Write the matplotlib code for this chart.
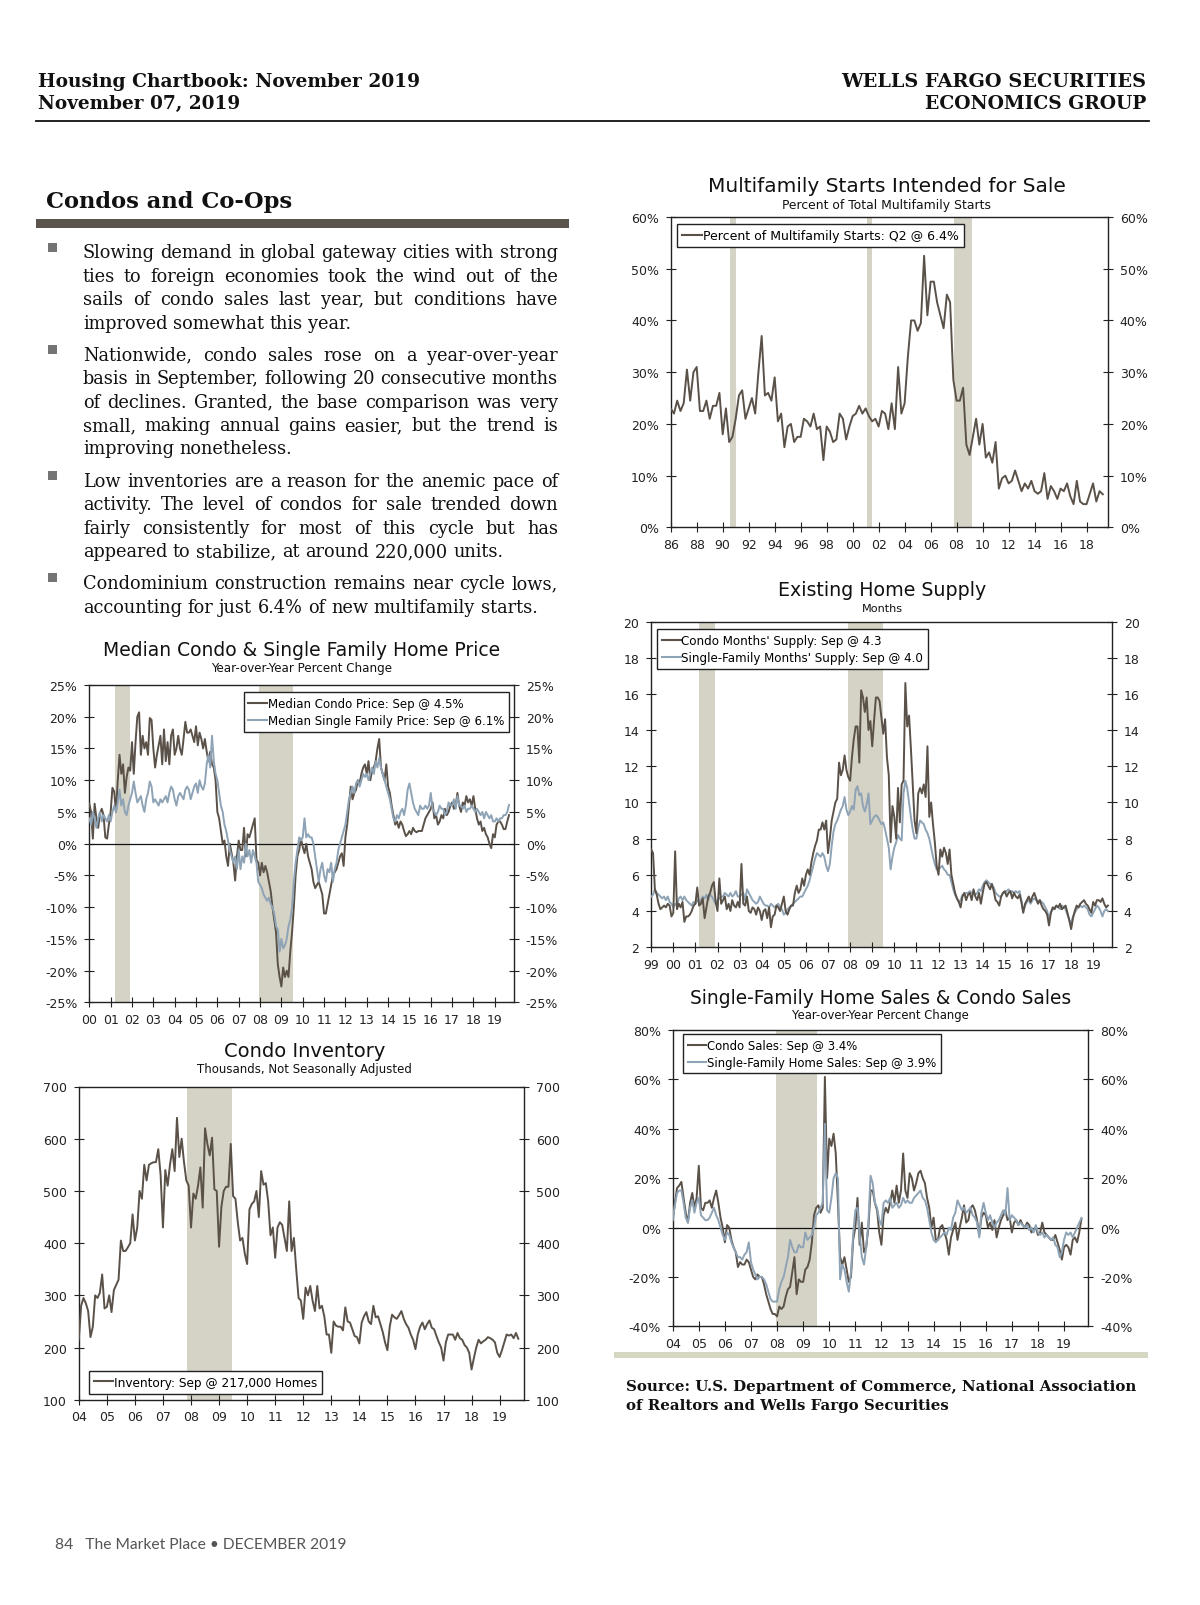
import numpy as np
import matplotlib
matplotlib.use('Agg')
import matplotlib.pyplot as plt
from matplotlib.patches import Rectangle
from matplotlib.lines import Line2D
from matplotlib.font_manager import FontProperties

# ---------------- DATA ----------------
# Multifamily starts intended for sale, % of total (quarterly, 1986Q1-2019Q2)
mf_start = 1986
mf_share = [
    23, 22, 24.5, 22.5, 24, 30.5, 24.5, 30, 31, 22.5, 22.5, 24.5, 21, 23.5, 23.5, 26,
    18, 23, 16.5, 17.5, 21, 25.5, 26.5, 21, 23, 25, 22, 30, 37, 25.5, 26, 24.5,
    29, 20.5, 22, 15.5, 19.5, 20, 16.5, 17.5, 17.5, 21, 20.5, 19.5, 22, 19, 19.5, 13,
    19.5, 18.5, 16.5, 17, 22, 21, 17, 19.5, 21.5, 22, 23.5, 22, 23, 21.5, 20.5, 21,
    19.5, 22.5, 22, 19, 24, 19, 31, 22, 24, 33, 40, 40, 38, 39.5, 52.5, 41,
    47.5, 47.5, 43.5, 41, 38.5, 45, 43.5, 28.5, 24.5, 24.5, 27, 16, 14, 17.5, 21, 16,
    20, 13.5, 14.5, 12.5, 16.5, 7.5, 9.5, 10, 8.5, 9, 11, 9, 7, 8.5, 7.5, 9,
    7, 6.5, 7, 10.5, 5.5, 8, 7, 5.5, 7.5, 7, 8.5, 6, 4.5, 9, 5, 4.5,
    4.5, 6.5, 8.5, 5, 7, 6.4]

# Existing home months' supply (monthly, Jan 1999 - Sep 2019)
supply_start = 1999
supply_condo = [
    7.4, 7.2, 5.2, 4.9, 4.4, 4.1, 4.2, 4.3, 4.2, 4.4, 4.3, 3.7,
    3.9, 7.3, 4.1, 4.4, 4.2, 4.5, 3.4, 3.7, 3.7, 3.8, 4.0, 4.3,
    4.4, 5.3, 4.3, 4.4, 4.7, 3.6, 4.2, 4.8, 5.0, 5.4, 5.6, 4.5,
    4.0, 5.8, 4.4, 4.6, 4.8, 4.1, 4.4, 4.0, 4.6, 4.3, 4.2, 4.5,
    4.2, 6.6, 4.4, 4.3, 4.8, 4.0, 3.9, 4.2, 4.1, 3.8, 4.2, 4.0,
    3.5, 4.0, 4.1, 3.6, 4.2, 3.1, 3.7, 3.8, 4.3, 4.2, 4.0, 4.4,
    4.8, 4.0, 3.8, 4.1, 4.3, 4.3, 5.0, 5.4, 5.0, 5.2, 5.8, 5.4,
    6.0, 6.3, 6.0, 6.7, 7.2, 7.6, 7.9, 8.5, 8.5, 8.9, 8.5, 9.0,
    7.2, 8.0, 9.0, 9.5, 10.0, 10.2, 12.2, 11.5, 11.8, 12.6, 11.8, 11.4,
    11.2, 12.5, 13.5, 14.2, 14.2, 12.2, 16.2, 15.8, 15.0, 15.8, 14.0, 14.5,
    13.1, 14.5, 15.8, 15.8, 15.6, 14.7, 13.8, 14.6, 12.5, 11.5, 7.8, 9.8,
    9.2, 8.0, 10.8, 8.9, 11.0, 11.2, 16.6, 14.2, 14.8, 13.0, 11.0, 9.0,
    8.3, 10.5, 10.8, 10.5, 11.0, 10.3, 13.1, 9.2, 10.0, 8.8, 7.8, 6.5,
    6.0, 7.4, 7.0, 7.5, 7.2, 6.6, 7.4, 6.0, 5.5, 5.0, 4.7, 4.5,
    4.2, 4.8, 5.0, 4.6, 4.9, 5.0, 4.6, 5.2, 4.8, 4.6, 5.0, 4.4,
    5.0, 5.5, 5.6, 5.4, 5.2, 5.5, 5.1, 4.6, 4.5, 4.3, 4.8, 5.0,
    5.1, 4.8, 5.0, 5.1, 4.7, 5.0, 4.8, 4.7, 4.9, 4.5, 3.9, 4.4,
    4.6, 4.8, 4.5, 4.8, 5.0, 4.7, 4.4, 4.6, 4.3, 4.1, 4.0, 3.8,
    3.2, 3.9, 4.2, 4.1, 4.3, 4.2, 4.4, 4.1, 4.2, 4.3, 3.9, 3.5,
    3.0, 3.6, 4.0, 4.3, 4.2, 4.4, 4.5, 4.6, 4.4, 4.3, 4.1, 3.9,
    4.5, 4.3, 4.6, 4.6, 4.5, 4.7, 4.4, 4.2, 4.3]
supply_sf = [
    4.8, 4.9, 5.2, 5.0, 4.9, 4.8, 4.7, 4.8, 4.6, 4.8, 4.5, 4.4,
    4.2, 4.4, 4.3, 4.7, 4.8, 4.6, 4.8, 4.6, 4.5, 4.4, 4.3, 4.5,
    4.4, 4.6, 4.5, 4.6, 4.8, 4.7, 4.9, 4.6, 4.9, 4.8, 4.6, 4.4,
    4.6, 4.7, 4.8, 4.8, 5.0, 4.9, 4.8, 5.0, 4.8, 4.9, 5.1, 4.8,
    4.8, 4.9, 5.0, 4.6, 5.2, 5.0, 4.8, 4.6, 4.5, 4.4, 4.5, 4.8,
    4.6, 4.4, 4.3, 4.3, 4.2, 4.4, 4.3, 4.2, 4.3, 4.4, 4.2, 4.1,
    3.8, 3.9, 4.1, 4.2, 4.3, 4.4, 4.5, 4.6, 4.7, 4.8, 4.8, 5.0,
    5.2, 5.4, 5.7, 6.1, 6.5, 6.9, 7.2, 7.1, 7.0, 7.2, 7.0, 6.5,
    6.2, 6.6, 7.6, 8.4, 8.8, 9.0, 9.3, 9.6, 9.8, 10.3, 9.6, 9.3,
    9.5, 9.8, 9.6, 10.7, 10.9, 10.4, 10.5, 9.8, 9.5, 9.9, 10.5, 8.8,
    9.0, 9.2, 9.3, 9.2, 9.0, 8.8, 8.9, 8.5, 8.0, 7.5, 6.3, 7.0,
    7.5, 7.8, 8.2, 8.0, 7.9, 10.5, 11.2, 10.8, 10.0, 9.2, 8.5, 8.0,
    8.0, 8.6, 9.0, 8.9, 8.8, 8.5, 8.3, 8.0, 7.5, 7.0, 6.6, 6.3,
    6.3, 6.4, 6.5, 6.3, 6.2, 6.0, 6.0, 5.6, 5.2, 4.9, 4.7, 4.5,
    4.6, 4.9, 4.9, 5.0, 5.0, 5.1, 5.0, 5.0, 4.9, 5.0, 5.2, 5.1,
    5.4, 5.6, 5.7, 5.6, 5.5, 5.4, 5.3, 5.0, 4.9, 4.8, 4.8, 5.0,
    5.0, 5.1, 5.2, 5.0, 5.1, 5.0, 5.1, 5.0, 5.1, 4.6, 4.0, 4.3,
    4.5, 4.6, 4.4, 4.6, 4.7, 4.6, 4.5, 4.6, 4.5, 4.4, 4.2, 4.0,
    3.6, 3.9, 4.1, 4.2, 4.3, 4.2, 4.1, 4.3, 4.2, 4.1, 3.8, 3.5,
    3.3, 3.7, 3.9, 4.1, 4.2, 4.3, 4.2, 4.3, 4.2, 4.1, 3.8, 3.7,
    3.9, 4.1, 4.3, 4.2, 4.0, 3.7, 4.0, 4.1, 4.0]

# Median price, year-over-year % change (monthly, Jan 2000 - Sep 2019)
price_start = 2000
price_condo = [
    6.3, 5.0, 0.8, 6.3, 4.0, 2.5, 4.8, 5.5, 4.5, 1.0, 0.8, 3.0,
    5.0, 8.8, 8.2, 5.0, 10.0, 14.0, 11.0, 12.5, 8.0, 10.5, 12.0, 11.5,
    16.0, 11.0, 16.0, 20.0, 20.7, 14.0, 17.0, 15.0, 16.0, 14.0, 19.8, 19.5,
    15.0, 12.0, 14.0, 15.5, 17.0, 12.5, 18.0, 13.0, 16.0, 12.5, 17.0, 18.0,
    14.0, 15.0, 17.0, 15.0, 14.0, 16.5, 19.2, 17.5, 17.5, 18.0, 17.0, 16.0,
    18.5, 15.5, 17.5, 16.5, 15.0, 16.5, 14.5, 13.0, 14.5, 12.5, 12.0, 10.0,
    5.0, 4.0, 2.0, 0.0, 0.5, -2.0, -3.5, 0.0, -1.5, -3.0, -5.8, -2.0,
    0.5, -1.0, -1.0, 2.5, -2.0, 1.5, 1.0, 2.0, 3.0, 4.0, -2.5, -3.0,
    -5.0, -3.0, -4.5, -3.5, -4.5, -6.0, -7.5, -10.0, -12.0, -14.0, -19.0, -21.0,
    -22.5, -19.5, -21.0, -20.0, -21.0, -17.0, -14.0, -10.0, -5.0, -2.0, -1.0, 0.8,
    -0.5, -1.5, 0.0, -2.0, -3.0, -4.0, -6.0, -7.0, -6.5, -6.0, -7.0, -8.0,
    -11.0, -11.0, -9.5, -8.0, -6.5, -5.0, -4.5, -4.0, -3.0, -2.0, -1.5, -3.5,
    1.0, 3.0, 6.0, 9.0, 7.0, 8.0, 8.5, 10.0, 9.5, 11.0, 12.0, 12.5,
    11.0, 13.0, 10.0, 11.5, 12.0, 13.0, 15.0, 16.5, 12.0, 11.0, 10.0, 12.5,
    9.0, 8.0, 6.0, 4.5, 3.0, 3.5, 2.5, 3.5, 3.0, 2.0, 1.2, 1.5,
    2.0, 1.5, 2.5, 2.0, 1.8, 2.0, 2.0, 2.0, 3.0, 4.0, 4.5, 5.0,
    5.5, 6.5, 4.0, 4.5, 3.0, 3.5, 4.5, 4.0, 5.5, 4.5, 5.0, 6.0,
    6.5, 5.5, 6.0, 8.0, 6.0, 5.0, 6.5, 6.0, 7.5, 6.5, 7.0, 6.0,
    7.5, 5.5, 4.0, 3.0, 3.5, 2.0, 2.5, 1.5, 1.0, 0.0, -0.7, 1.5,
    1.0, 3.0, 3.5, 3.5, 3.0, 2.3, 2.3, 3.5, 4.5]
price_sf = [
    4.0, 3.0, 5.0, 4.0, 2.5, 4.0, 5.0, 3.5, 4.5, 4.0, 3.5, 4.5,
    3.5, 5.0, 6.0, 5.0, 6.5, 8.5, 6.0, 7.0, 5.0, 4.5, 6.0, 7.0,
    8.0, 9.8, 8.0, 6.5, 7.0, 7.5, 6.0, 5.0, 7.0, 8.0, 9.8, 9.0,
    6.5, 7.0, 6.5, 6.0, 7.0, 6.5, 7.0, 7.5, 6.5, 8.0, 9.0, 8.5,
    7.0, 6.0, 7.5, 8.0, 7.5, 7.0, 8.5, 9.0, 8.5, 7.0, 8.0, 9.0,
    9.5, 8.0, 10.0, 9.0, 8.5, 9.5, 12.5, 14.0, 12.0, 17.0, 13.0, 11.0,
    10.0, 8.0, 6.0, 5.0, 3.0, 2.0, 0.5, -1.0, -2.0, -3.0, -2.0, -4.0,
    -1.0, -4.0, -2.0, -3.0, 0.0, -2.0, -1.0, -3.0, -1.0, -2.0, -3.0, -6.0,
    -6.5, -7.0, -8.0, -8.5, -9.0, -8.5, -9.5, -10.0, -11.0, -13.0, -13.5, -17.0,
    -15.0, -16.5, -16.0, -15.0, -13.0, -12.0, -10.0, -6.0, -3.0, -1.0, 1.0, 0.5,
    1.0, 4.0, 1.0, 1.5, 1.0, 1.0, 0.0, -2.0, -4.0, -6.0, -4.0, -3.0,
    -5.0, -6.0, -4.0, -4.5, -3.0, -6.0, -4.0, -3.0, -1.0, 0.0, 1.0, 2.0,
    3.0, 5.0, 7.0, 8.0, 9.0, 8.0, 9.5, 10.0, 9.0, 10.0, 11.0, 10.5,
    11.0, 10.0, 11.0, 12.0, 11.0, 13.0, 12.0, 13.5, 12.0, 11.0, 10.0, 9.0,
    8.0, 7.0, 5.5, 4.0, 3.5, 4.5, 4.0, 5.0, 5.5, 4.5, 6.0, 8.5,
    9.5, 8.0, 6.5, 5.5, 5.0, 4.5, 6.0, 5.5, 5.5, 6.0, 5.5, 6.0,
    8.0, 5.5, 5.0, 4.5, 5.0, 6.0, 5.5, 5.5, 4.5, 5.0, 6.5, 6.0,
    6.0, 7.0, 5.5, 7.5, 6.0, 6.0, 5.5, 6.0, 5.0, 5.5, 5.5, 6.0,
    5.5, 5.0, 5.5, 5.0, 4.5, 5.0, 4.0, 5.0, 4.5, 4.0, 4.5, 3.5,
    3.5, 4.0, 3.5, 4.0, 4.0, 4.5, 4.5, 5.0, 6.1]

# Condo inventory, thousands NSA (monthly, Jan 2004 - Sep 2019)
inv_start = 2004
inventory = [
    215, 280, 295, 285, 270, 220, 240, 300, 295, 305, 340, 275,
    278, 300, 268, 310, 320, 330, 405, 385, 385, 392, 400, 455,
    405, 430, 500, 485, 550, 520, 550, 553, 555, 555, 580, 530,
    430, 540, 510, 550, 580, 538, 640, 565, 600, 555, 520, 510,
    430, 495, 485, 510, 545, 468, 620, 590, 568, 602, 503, 500,
    393, 470, 500, 508, 508, 590, 490, 485, 440, 405, 410, 380,
    360, 465, 475, 480, 500, 450, 538, 512, 515, 480, 415, 430,
    372, 430, 440, 435, 410, 385, 480, 385, 410, 350, 295, 290,
    255, 315, 300, 318, 290, 270, 318, 275, 280, 260, 225, 225,
    190, 250, 242, 240, 240, 233, 277, 250, 248, 235, 222, 220,
    208, 248, 260, 268, 250, 245, 280, 258, 260, 245, 230, 210,
    195, 240, 263, 258, 255, 262, 270, 255, 245, 238, 225, 215,
    197, 225, 240, 248, 235, 245, 252, 238, 235, 222, 210, 200,
    175, 210, 225, 225, 225, 215, 228, 218, 215, 205, 200, 190,
    158, 180, 200, 215, 208, 212, 215, 220, 218, 215, 210, 190,
    182, 195, 210, 225, 223, 225, 218, 228, 217]

# Sales, year-over-year % change (monthly, Jan 2004 - Sep 2019)
sales_start = 2004
sales_condo = [
    3, 10, 16, 17, 18.5, 12, 6, 2, 10, 14, 8, 12,
    25, 8, 7, 10, 10, 11, 8, 12, 15, 10, 4, 0,
    -6, 1, 0, -5, -8, -10, -16, -14, -15, -15, -13, -14,
    -17, -20, -21, -19, -20, -20, -23, -27, -30, -33, -35, -35,
    -36, -32, -33, -32, -28, -25, -24, -18, -12, -27, -21, -22,
    -22, -17, -16, -13, -6, 5, 8, 9, 6, 8, 61, 20,
    36, 33, 38, 30, 10, -12, -15, -12, -17, -22, -20, -5,
    0, 12, -7, 2, -10, -8, 0, 15, 15, 10, 7, -2,
    -7, 5, 8, 6, 10, 15, 10, 17, 10, 15, 30, 15,
    12, 22, 20, 15, 18, 22, 23, 20, 18, 12, 8, 0,
    4, -5, -5, 0, 1, -2, -5, -11, -4, -1, 2, -5,
    0, 4, 9, 2, 3, 8, 9, 7, 3, -3, 4, 6,
    5, 0, 2, -1, 3, -4, 0, 3, 5, 7, 3, 4,
    -2, 2, 3, 1, 3, 1, 0, 2, 1, -2, -1, 0,
    -3, -2, 2, -2, -3, -4, -5, -5, -3, -6, -9, -13,
    -8, -7, -8, -11, -5, -4, -6, -2, 3.4]
sales_sf = [
    3, 9, 14, 15, 15, 10, 4, 2, 8, 11, 6, 10,
    12, 5, 4, 3, 3, 4, 6, 8, 5, 3, 0, -3,
    -5, -2, -3, -6, -8, -10, -12, -12, -13, -11, -10, -6,
    -14, -17, -19, -21, -20, -20, -21, -23, -26, -29, -30, -30,
    -30, -25, -22, -20, -16, -12, -5, -8, -10, -10, -7, -8,
    -8, -2, -5, -4, -3, 0, 5, 6, 8, 10, 42, 7,
    6, 12, 20, 22, 20, -21, -15, -17, -22, -26, -18, -3,
    7, 8, -3, -12, -15, -8, 2, 21, 18, 10, 8, 3,
    1, 10, 11, 10, 12, 8, 9, 10, 8, 9, 12, 10,
    11, 10, 10, 12, 13, 14, 15, 12, 11, 8, 3, -2,
    -5, -6, -5, -4, -3, -2, -3, 0, -1, 4, 6, 11,
    9, 7, 8, 6, 7, 8, 5, 4, 2, -4, 6, 10,
    6, 3, 5, 2, 0, 2, 3, 5, 7, 5, 16, 3,
    5, 4, 3, 1, 2, 1, 0, 1, -1, 0, -2, 1,
    -2, -3, -2, -4, -3, -4, -5, -4, -7, -8, -12, -10,
    -5, -2, -3, -2, -4, -2, 0, 2, 3.9]

recessions_mf = [(1990.58, 1991.0), (2001.07, 2001.5), (2007.8, 2009.2)]
recessions_supply = [(2001.17, 2001.9), (2007.92, 2009.5)]
recessions_price = [(2001.2, 2001.9), (2007.95, 2009.55)]
recessions_inv = [(2007.87, 2009.45)]
recessions_sales = [(2007.96, 2009.52)]

legend_mf = ["Percent of Multifamily Starts: Q2 @ 6.4%"]
legend_supply = ["Condo Months' Supply: Sep @ 4.3", "Single-Family Months' Supply: Sep @ 4.0"]
legend_price = ["Median Condo Price: Sep @ 4.5%", "Median Single Family Price: Sep @ 6.1%"]
legend_inv = ["Inventory: Sep @ 217,000 Homes"]
legend_sales = ["Condo Sales: Sep @ 3.4%", "Single-Family Home Sales: Sep @ 3.9%"]

bullets = [
    ["Slowing demand in global gateway cities with strong",
     "ties to foreign economies took the wind out of the",
     "sails of condo sales last year, but conditions have",
     "improved somewhat this year."],
    ["Nationwide, condo sales rose on a year-over-year",
     "basis in September, following 20 consecutive months",
     "of declines. Granted, the base comparison was very",
     "small, making annual gains easier, but the trend is",
     "improving nonetheless."],
    ["Low inventories are a reason for the anemic pace of",
     "activity. The level of condos for sale trended down",
     "fairly consistently for most of this cycle but has",
     "appeared to stabilize, at around 220,000 units."],
    ["Condominium construction remains near cycle lows,",
     "accounting for just 6.4% of new multifamily starts."],
]

# ---------------- LAYOUT / STYLE ----------------
W, H = 1200, 1606
DARK = '#5a5149'
BLUE = '#8ea3b5'
REC = '#d5d2c6'
SANS = ['DejaVu Sans']
SERIF = ['DejaVu Serif']

fig = plt.figure(figsize=(W / 100, H / 100), dpi=100)
fig.patch.set_facecolor('white')
R = fig.canvas.get_renderer()


def fx(x):
    return x / W


def fy(y):
    return 1 - y / H


def fit_text(x, y, s, width, ha='left', va='center', **kw):
    t = fig.text(fx(x), fy(y), s, ha=ha, va=va, fontsize=10, **kw)
    w = t.get_window_extent(renderer=R).width
    fs = 10 * width / w
    t.set_fontsize(fs)
    return t, fs


def text_w(s, fp):
    w, h, d = R.get_text_width_height_descent(s, fp, ismath=False)
    return w


# Header
fit_text(38, 82, "Housing Chartbook: November 2019", 384, family=SERIF, weight='bold', color='#111')
fit_text(38, 104, "November 07, 2019", 203, family=SERIF, weight='bold', color='#111')
fit_text(1146, 82, "WELLS FARGO SECURITIES", 305, ha='right', family=SERIF, weight='bold', color='#111')
fit_text(1146, 104, "ECONOMICS GROUP", 223, ha='right', family=SERIF, weight='bold', color='#111')
fig.add_artist(Line2D([fx(36), fx(1149)], [fy(122), fy(122)], color='#111', lw=1.3))

# Section title and bar
fit_text(46, 202, "Condos and Co-Ops", 247, family=SERIF, weight='bold', color='#111')
fig.add_artist(Rectangle((fx(36), fy(229)), (569 - 36) / W, 9 / H, color='#5b544c', lw=0))

# Body bullets (justified)
X0, X1 = 83, 558
fp10 = FontProperties(family=SERIF, size=10)
targets = {"improved somewhat this year.": 272, "improving nonetheless.": 211,
           "appeared to stabilize, at around 220,000 units.": 424,
           "accounting for just 6.4% of new multifamily starts.": 457}
ratios = [tw / text_w(s, fp10) for s, tw in targets.items()]
body_fs = 10 * float(np.mean(ratios))
fp = FontProperties(family=SERIF, size=body_fs)
space_w = text_w("a a", fp) - 2 * text_w("a", fp)
line_ys = [[253, 276.5, 300, 323.5], [355.3, 378.9, 402.4, 426, 448.5],
           [481.2, 504.8, 528.4, 552], [583.6, 607.2]]
fs_px = body_fs * 100 / 72
for lines, ys in zip(bullets, line_ys):
    fig.add_artist(Rectangle((fx(48), fy(ys[0] - 0.5)), 9 / W, 9 / H, color='#747474', lw=0))
    for i, (ln, yc) in enumerate(zip(lines, ys)):
        words = ln.split()
        ws = [text_w(w, fp) for w in words]
        base = yc + 0.3 * fs_px
        last = (i == len(lines) - 1)
        gap = space_w if last else (X1 - X0 - sum(ws)) / (len(words) - 1)
        x = X0
        for w, ww in zip(words, ws):
            fig.text(fx(x), fy(base), w, fontproperties=fp, ha='left', va='baseline', color='#111')
            x += ww + gap


# ---------------- CHARTS ----------------
def make_chart(box, xlim, ylim, yticks, ylabels, xticks, xlabels, recessions):
    l, t, r, b = box
    ax = fig.add_axes([l / W, 1 - b / H, (r - l) / W, (b - t) / H])
    ax.set_xlim(*xlim)
    ax.set_ylim(*ylim)
    for a, bb in recessions:
        ax.axvspan(a, bb, color=REC, lw=0, zorder=0)
    ax.set_yticks(yticks, labels=ylabels)
    ax.set_xticks(xticks, labels=xlabels)
    ax.tick_params(axis='y', direction='inout', length=7, width=0.8, left=True, right=True,
                   labelleft=True, labelright=True, labelsize=9, pad=5, colors='#222')
    ax.tick_params(axis='x', direction='inout', length=7, width=0.8, labelsize=9, pad=4,
                   top=False, colors='#222')
    for lab in ax.get_xticklabels() + ax.get_yticklabels():
        lab.set_family(SANS)
    for sp in ax.spines.values():
        sp.set_linewidth(1.0)
        sp.set_color('#222')
    return ax


def chart_titles(xc, yt, ys, title, tw, sub, sw):
    fit_text(xc, yt, title, tw, ha='center', family=SANS, color='#111')
    fit_text(xc, ys, sub, sw, ha='center', family=SANS, color='#111')


def add_legend(ax, labels, colors, anchor, loc, size):
    hs = [Line2D([], [], color=c, lw=1.5) for c in colors]
    lg = ax.legend(hs, labels, loc=loc, bbox_to_anchor=(fx(anchor[0]), fy(anchor[1])),
                   bbox_transform=fig.transFigure, prop={'family': SANS, 'size': size},
                   frameon=True, fancybox=False, edgecolor='#222', framealpha=1,
                   handlelength=1.6, handletextpad=0.05, borderpad=0.4,
                   labelspacing=0.35, borderaxespad=0)
    lg.get_frame().set_linewidth(1.0)
    lg.set_zorder(10)
    return lg


def yy(y):
    return "%02d" % (y % 100)


def monthly(start, n):
    return start + np.arange(n) / 12.0


# Chart 1: Multifamily starts intended for sale
chart_titles(887, 186.4, 205.8, "Multifamily Starts Intended for Sale", 358,
             "Percent of Total Multifamily Starts", 208)
ax1 = make_chart((670.7, 218, 1108, 528.4), (1986, 2019.65), (0, 60),
                 list(range(0, 61, 10)), ["%d%%" % v for v in range(0, 61, 10)],
                 list(range(1986, 2019, 2)), [yy(y) for y in range(1986, 2019, 2)], recessions_mf)
t_mf = mf_start + np.arange(len(mf_share)) / 4.0
ax1.plot(t_mf, mf_share, color=DARK, lw=1.4, zorder=3)
add_legend(ax1, legend_mf, [DARK], (677, 225), 'upper left', 9.0)

# Chart 2: Existing home supply
chart_titles(882.5, 590.8, 609.3, "Existing Home Supply", 208, "Months", 41)
ax2 = make_chart((651.2, 622.5, 1112, 948.2), (1999, 2019.85), (2, 20),
                 list(range(2, 21, 2)), [str(v) for v in range(2, 21, 2)],
                 list(range(1999, 2020)), [yy(y) for y in range(1999, 2020)], recessions_supply)
t_sup = monthly(supply_start, len(supply_condo))
ax2.plot(t_sup, supply_sf, color=BLUE, lw=1.4, zorder=3)
ax2.plot(t_sup, supply_condo, color=DARK, lw=1.4, zorder=4)
add_legend(ax2, legend_supply, [DARK, BLUE], (657, 630), 'upper left', 8.6)

# Chart 3: Median condo & single family home price
chart_titles(302, 650.2, 668.6, "Median Condo & Single Family Home Price", 398,
             "Year-over-Year Percent Change", 180)
ax3 = make_chart((89.3, 686, 514, 1003.4), (2000, 2019.9), (-25, 25),
                 list(range(-25, 26, 5)), ["%d%%" % v for v in range(-25, 26, 5)],
                 list(range(2000, 2020)), [yy(y) for y in range(2000, 2020)], recessions_price)
ax3.axhline(0, color='#111', lw=0.9, zorder=2)
t_pr = monthly(price_start, len(price_condo))
ax3.plot(t_pr, price_condo, color=DARK, lw=1.4, zorder=3)
ax3.plot(t_pr, price_sf, color=BLUE, lw=1.4, zorder=4)
add_legend(ax3, legend_price, [DARK, BLUE], (509, 693), 'upper right', 8.5)

# Chart 4: Condo inventory
chart_titles(304.6, 1051.6, 1069, "Condo Inventory", 161,
             "Thousands, Not Seasonally Adjusted", 214)
ax4 = make_chart((78.8, 1087.5, 524.3, 1400.8), (2004, 2019.88), (100, 700),
                 list(range(100, 701, 100)), [str(v) for v in range(100, 701, 100)],
                 list(range(2004, 2020)), [yy(y) for y in range(2004, 2020)], recessions_inv)
t_inv = monthly(inv_start, len(inventory))
ax4.plot(t_inv, inventory, color=DARK, lw=1.4, zorder=3)
add_legend(ax4, legend_inv, [DARK], (89, 1394.5), 'lower left', 8.7)

# Chart 5: Single-family home sales & condo sales
chart_titles(880.6, 998.4, 1015.8, "Single-Family Home Sales & Condo Sales", 381,
             "Year-over-Year Percent Change", 176)
ax5 = make_chart((672.7, 1031, 1088.3, 1327.3), (2004, 2019.93), (-40, 80),
                 list(range(-40, 81, 20)), ["%d%%" % v for v in range(-40, 81, 20)],
                 list(range(2004, 2020)), [yy(y) for y in range(2004, 2020)], recessions_sales)
ax5.axhline(0, color='#111', lw=0.9, zorder=2)
t_sa = monthly(sales_start, len(sales_condo))
ax5.plot(t_sa, sales_condo, color=DARK, lw=1.4, zorder=3)
ax5.plot(t_sa, sales_sf, color=BLUE, lw=1.4, zorder=4)
add_legend(ax5, legend_sales, [DARK, BLUE], (683, 1035), 'upper left', 8.4)

# Source bar and text
fig.add_artist(Rectangle((fx(614), fy(1358.5)), (1148 - 614) / W, 5.5 / H, color='#d6d7c3', lw=0))
_, sfs = fit_text(626, 1387.5, "Source: U.S. Department of Commerce, National Association", 511,
                  family=SERIF, weight='bold', color='#111')
fig.text(fx(626), fy(1405.9), "of Realtors and Wells Fargo Securities", ha='left', va='center',
         fontsize=sfs, family=SERIF, weight='bold', color='#111')

# Footer
fit_text(55, 1545, "84   The Market Place \u2022 DECEMBER 2019", 291,
         family=['Lato', 'DejaVu Sans'], color='#555')

fig.savefig('out.png', dpi=100, facecolor='white')
